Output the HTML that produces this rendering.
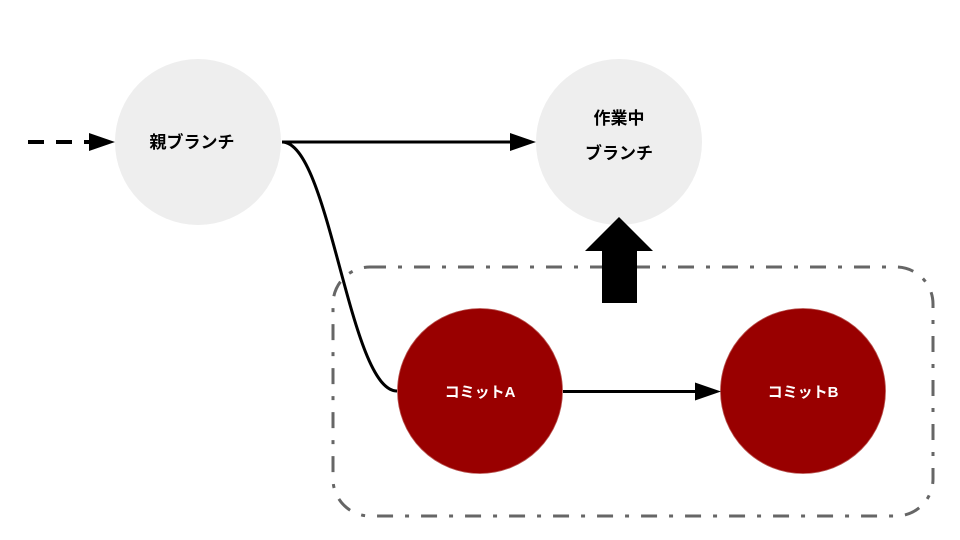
<!DOCTYPE html>
<html>
<head>
<meta charset="utf-8">
<style>
html,body{margin:0;padding:0;background:#fff;}
svg{display:block;}
text{font-family:"Liberation Sans","Noto Sans CJK JP",sans-serif;font-weight:bold;}
</style>
</head>
<body>
<svg width="960" height="540" viewBox="0 0 960 540" xmlns="http://www.w3.org/2000/svg">
  <rect x="0" y="0" width="960" height="540" fill="#ffffff"/>

  <!-- dashed group box -->
  <rect x="333" y="267" width="600" height="249" rx="37" ry="37" fill="none" stroke="#666666" stroke-width="3" stroke-dasharray="16 12 4 12"/>

  <!-- circles -->
  <circle cx="198" cy="142" r="83" fill="#eeeeee"/>
  <circle cx="619" cy="142" r="83" fill="#eeeeee"/>
  <circle cx="480" cy="391" r="82.5" fill="#990000" stroke="#b85450" stroke-width="0.8"/>
  <circle cx="803" cy="391" r="82.5" fill="#990000" stroke="#b85450" stroke-width="0.8"/>

  <!-- dashed incoming arrow -->
  <line x1="28" y1="142" x2="95" y2="142" stroke="#000" stroke-width="4" stroke-dasharray="16 12"/>
  <polygon points="89,133 115,142 89,151" fill="#000"/>

  <!-- parent -> working -->
  <line x1="282" y1="142" x2="512" y2="142" stroke="#000" stroke-width="3"/>
  <polygon points="510,133 536,142 510,151" fill="#000"/>

  <!-- parent -> commit A curve -->
  <path d="M282,142 C330,142 349,391 397,391" fill="none" stroke="#000" stroke-width="3"/>

  <!-- commit A -> commit B -->
  <line x1="563" y1="391.5" x2="697" y2="391.5" stroke="#000" stroke-width="3"/>
  <polygon points="695,382.5 721,391.5 695,400.5" fill="#000"/>

  <!-- big up arrow -->
  <polygon points="619,217 653,251 637,251 637,303 602,303 602,251 585,251" fill="#000"/>

  <!-- labels -->
  <text x="192" y="148" font-size="17" fill="#000" text-anchor="middle">親ブランチ</text>
  <text x="619" y="124" font-size="17" fill="#000" text-anchor="middle">作業中</text>
  <text x="619" y="159" font-size="17" fill="#000" text-anchor="middle">ブランチ</text>
  <text x="480" y="397" font-size="15" fill="#ffffff" text-anchor="middle">コミットA</text>
  <text x="803" y="397" font-size="15" fill="#ffffff" text-anchor="middle">コミットB</text>
</svg>
</body>
</html>
